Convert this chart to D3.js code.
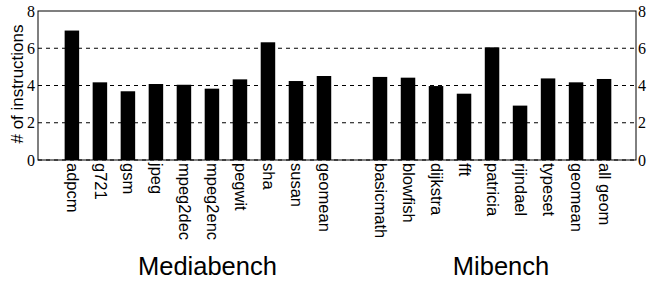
<!DOCTYPE html>
<html>
<head>
  <meta charset="UTF-8">
  <title>Instructions per benchmark</title>
  <style>
    body { margin: 0; background: #fff; }
  </style>
</head>
<body>
<svg id="chart"></svg>
<script src="https://d3js.org/d3.v7.min.js"></script>
<script>
// benchmark names, slot 10 is the empty gap between the two suites
var benchNames = ["adpcm", "g721", "gsm", "jpeg", "mpeg2dec", "mpeg2enc", "pegwit", "sha", "susan", "geomean",
                  "", "basicmath", "blowfish", "dijkstra", "fft", "patricia", "rijndael", "typeset", "geomean", "all geom"]
var instrCounts = [6.95, 4.17, 3.69, 4.08, 4.04, 3.83, 4.33, 6.32, 4.24, 4.51,
                   null, 4.46, 4.42, 3.97, 3.56, 6.05, 2.92, 4.38, 4.17, 4.35]
var yTicks = [0, 2, 4, 6, 8]
var groupNames = ["Mediabench", "Mibench"]

let width = 647, height = 281
let svg = d3.select("#chart").attr("width", width).attr("height", height)

let mLeft = 38, mRight = 636, mTop = 11, mBottom = 160
let groupCenters = [4.84, 15.32]   // slot positions of the suite titles

let x = d3.scaleLinear().domain([-1.21, 20.14]).range([mLeft, mRight])
let y = d3.scaleLinear().domain([0, 8]).range([mBottom, mTop])
let barW = 14.5

// dashed grid lines
svg.append("g")
  .selectAll("line")
  .data(yTicks.filter(t => t < 8))
  .enter()
  .append("line")
    .attr("x1", mLeft).attr("x2", mRight)
    .attr("y1", d => y(d)).attr("y2", d => y(d))
    .attr("stroke", "#000")
    .attr("stroke-width", 1)
    .attr("stroke-dasharray", "4,4")

// bars
let bars = benchNames.map((n, i) => ({name: n, value: instrCounts[i], i: i})).filter(d => d.value != null)
svg.append("g")
  .selectAll("rect")
  .data(bars)
  .enter()
  .append("rect")
    .attr("x", d => x(d.i) - barW / 2)
    .attr("width", barW)
    .attr("y", d => y(d.value))
    .attr("height", d => y(0) - y(d.value))
    .attr("fill", "#000")

// frame
svg.append("rect")
  .attr("x", mLeft).attr("y", mTop)
  .attr("width", mRight - mLeft).attr("height", mBottom - mTop)
  .attr("fill", "none")
  .attr("stroke", "#000")
  .attr("stroke-width", 1)

// y axes on both sides
let yl = svg.append("g").attr("transform", "translate(" + mLeft + ",0)")
  .call(d3.axisLeft(y).tickValues(yTicks).tickSize(0).tickPadding(3).tickFormat(d3.format("d")))
yl.select(".domain").remove()
yl.attr("font-family", "Liberation Serif, serif").attr("font-size", 16)
yl.selectAll("text").attr("fill", "#000")

let yr = svg.append("g").attr("transform", "translate(" + mRight + ",0)")
  .call(d3.axisRight(y).tickValues(yTicks).tickSize(0).tickPadding(2).tickFormat(d3.format("d")))
yr.select(".domain").remove()
yr.attr("font-family", "Liberation Serif, serif").attr("font-size", 16)
yr.selectAll("text").attr("fill", "#000")

// rotated bench labels
svg.append("g")
  .selectAll("text")
  .data(bars)
  .enter()
  .append("text")
    .attr("transform", d => "translate(" + (x(d.i) + 0.5) + "," + (mBottom + 3) + ") rotate(90)")
    .attr("dy", "0.35em")
    .attr("font-family", "Liberation Sans, sans-serif")
    .attr("font-size", 16.5)
    .attr("fill", "#000")
    .text(d => d.name)

// y label
svg.append("text")
  .attr("transform", "translate(23," + 84 + ") rotate(-90)")
  .attr("text-anchor", "middle")
  .attr("font-family", "Liberation Sans, sans-serif")
  .attr("font-size", 17)
  .text("# of instructions")

// suite names
svg.append("g")
  .selectAll("text")
  .data(groupNames)
  .enter()
  .append("text")
    .attr("x", (d, i) => x(groupCenters[i]))
    .attr("y", 275)
    .attr("text-anchor", "middle")
    .attr("font-family", "Liberation Sans, sans-serif")
    .attr("font-size", 25.5)
    .text(d => d)
</script>
</body>
</html>
